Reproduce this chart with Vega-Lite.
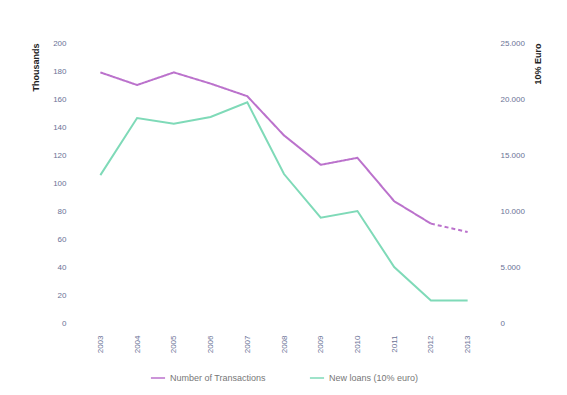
{
  "$schema": "https://vega.github.io/schema/vega-lite/v6.json",
  "width": 404,
  "height": 280,
  "autosize": {"type": "none"},
  "padding": {"left": 82, "top": 43, "right": 81, "bottom": 72},
  "background": "white",
  "config": {
    "font": "Liberation Sans",
    "view": {"stroke": null},
    "axis": {"labelColor": "#6a7296", "labelFontSize": 8, "grid": false, "domain": false, "ticks": false, "titleFontSize": 9, "titleColor": "#222222", "titleFontWeight": "bold", "labelOverlap": false}
  },
  "data": {
    "values": [
      {"year": "2003", "series": "Number of Transactions", "part": "actual", "v": 179},
      {"year": "2004", "series": "Number of Transactions", "part": "actual", "v": 170},
      {"year": "2005", "series": "Number of Transactions", "part": "actual", "v": 179},
      {"year": "2006", "series": "Number of Transactions", "part": "actual", "v": 171},
      {"year": "2007", "series": "Number of Transactions", "part": "actual", "v": 162},
      {"year": "2008", "series": "Number of Transactions", "part": "actual", "v": 134},
      {"year": "2009", "series": "Number of Transactions", "part": "actual", "v": 113},
      {"year": "2010", "series": "Number of Transactions", "part": "actual", "v": 118},
      {"year": "2011", "series": "Number of Transactions", "part": "actual", "v": 87},
      {"year": "2012", "series": "Number of Transactions", "part": "actual", "v": 71},
      {"year": "2012", "series": "Number of Transactions", "part": "projected", "v": 71},
      {"year": "2013", "series": "Number of Transactions", "part": "projected", "v": 65},
      {"year": "2003", "series": "New loans (10% euro)", "part": "actual", "v": 13200},
      {"year": "2004", "series": "New loans (10% euro)", "part": "actual", "v": 18300},
      {"year": "2005", "series": "New loans (10% euro)", "part": "actual", "v": 17800},
      {"year": "2006", "series": "New loans (10% euro)", "part": "actual", "v": 18400},
      {"year": "2007", "series": "New loans (10% euro)", "part": "actual", "v": 19700},
      {"year": "2008", "series": "New loans (10% euro)", "part": "actual", "v": 13300},
      {"year": "2009", "series": "New loans (10% euro)", "part": "actual", "v": 9400},
      {"year": "2010", "series": "New loans (10% euro)", "part": "actual", "v": 10000},
      {"year": "2011", "series": "New loans (10% euro)", "part": "actual", "v": 5000},
      {"year": "2012", "series": "New loans (10% euro)", "part": "actual", "v": 2000},
      {"year": "2013", "series": "New loans (10% euro)", "part": "actual", "v": 2000}
    ]
  },
  "encoding": {
    "x": {"field": "year", "type": "ordinal", "scale": {"type": "point", "padding": 0.5}, "axis": {"title": null, "labelAngle": -90, "labelPadding": 12}},
    "color": {
      "field": "series", "type": "nominal",
      "scale": {"domain": ["Number of Transactions", "New loans (10% euro)"], "range": ["#bb72cc", "#7fdab8"]},
      "legend": {"orient": "none", "legendX": 68, "legendY": 327, "direction": "horizontal", "title": null, "symbolType": "stroke", "symbolStrokeWidth": 1.5, "symbolSize": 200, "labelFontSize": 9, "labelColor": "#777777", "columnPadding": 40}
    }
  },
  "layer": [
    {
      "transform": [{"filter": "datum.series == 'Number of Transactions'"}],
      "mark": {"type": "line", "strokeWidth": 2},
      "encoding": {
        "y": {"field": "v", "type": "quantitative", "scale": {"domain": [0, 200]}, "axis": {"title": "Thousands", "values": [0, 20, 40, 60, 80, 100, 120, 140, 160, 180, 200], "labelPadding": 16, "titleAnchor": "end", "titleAngle": -90, "titlePadding": 12}},
        "detail": {"field": "part"},
        "strokeDash": {"field": "part", "type": "nominal", "scale": {"domain": ["actual", "projected"], "range": [[1, 0], [4, 3]]}, "legend": null}
      }
    },
    {
      "transform": [{"filter": "datum.series == 'New loans (10% euro)'"}],
      "mark": {"type": "line", "strokeWidth": 2},
      "encoding": {
        "y": {"field": "v", "type": "quantitative", "scale": {"domain": [0, 25000]}, "axis": {"orient": "right", "title": "10% Euro", "values": [0, 5000, 10000, 15000, 20000, 25000], "labelExpr": "replace(format(datum.value, ','), ',', '.')", "labelPadding": 14, "titleAnchor": "end", "titleAngle": -90, "titlePadding": 18}}
      }
    }
  ],
  "resolve": {"scale": {"y": "independent"}}
}
